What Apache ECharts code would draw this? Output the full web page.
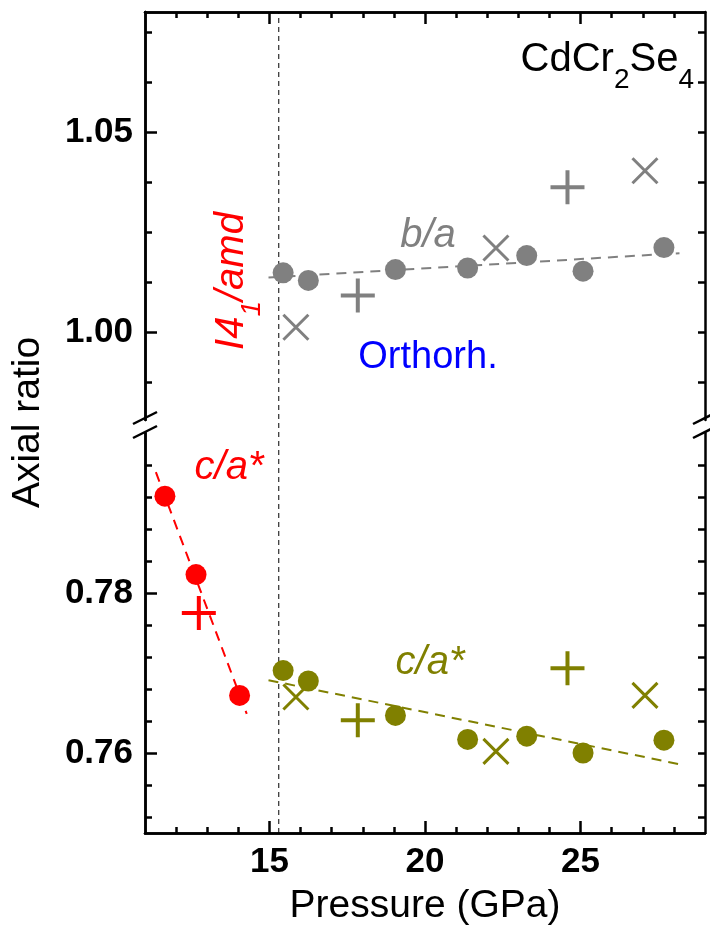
<!DOCTYPE html>
<html><head><meta charset="utf-8">
<script src="https://cdn.jsdelivr.net/npm/echarts@6/dist/echarts.min.js"></script>
<style>html,body{margin:0;padding:0;background:#fff}#c{width:710px;height:934px}</style>
</head><body><div id="c"></div><script>
const FONT = '"Liberation Sans", Arial, Helvetica, sans-serif';

// ---- data (Pressure in GPa, axial ratios) ----
const orthoP      = [15.44, 16.25, 19.05, 21.37, 23.27, 25.08, 27.68];
const baCircleV   = [1.0148, 1.0129, 1.0156, 1.0160, 1.0191, 1.0152, 1.0211];
const caCircleV   = [0.7703, 0.7690, 0.7647, 0.7617, 0.7621, 0.7600, 0.7616];
const plusP       = [17.84, 24.58];
const baPlusV     = [1.0091, 1.0362];
const caPlusV     = [0.7641, 0.7706];
const crossP      = [15.85, 22.28, 27.07];
const baCrossV    = [1.0012, 1.0210, 1.0403];
const caCrossV    = [0.7670, 0.7602, 0.7672];
const orthoFitP   = [14.97, 28.18];
const baFitV      = [1.0136, 1.0197];
const caFitV      = [0.7691, 0.7586];

const tetCircleP  = [11.64, 12.64, 14.04];
const tetCircleV  = [0.7921, 0.7823, 0.7672];
const tetPlusP    = [12.73];
const tetPlusV    = [0.7775];
const tetFitP     = [11.35, 14.27];
const tetFitV     = [0.7951, 0.7649];

const transitionP = 15.3;

// ---- axes / ticks ----
const xRange = [11, 29];
const xMajorTicks = [15, 20, 25];
const xMinorTicks = [12, 13, 14, 16, 17, 18, 19, 21, 22, 23, 24, 26, 27, 28];
const topRange = [0.978, 1.08];
const topMajorTicks = [1.00, 1.05];
const topMinorTicks = [0.9875, 1.0125, 1.025, 1.0375, 1.0625, 1.075];
const botRange = [0.75, 0.80];
const botMajorTicks = [0.76, 0.78];
const botMinorTicks = [0.752, 0.756, 0.764, 0.768, 0.772, 0.776, 0.784, 0.788, 0.792, 0.796];

const C_GREY = '#808080', C_RED = '#ff0000', C_OLIVE = '#808000', C_BLUE = '#0000ff';
const PLUS = 'path://M-1,0L1,0M0,-1L0,1';
const CROSS = 'path://M-1,-1L1,1M-1,1L1,-1';

const zip = (a, b) => a.map((v, i) => [v, b[i]]);

function axis(grid, pos, range, ticks, len, labels) {
  return {
    type: 'value', gridIndex: grid, position: pos, min: range[0], max: range[1],
    axisLine: { show: true, onZero: false, lineStyle: { color: '#000', width: 2.5 } },
    axisTick: { show: true, inside: true, length: len, customValues: ticks, lineStyle: { color: '#000', width: 2.5 } },
    axisLabel: labels ? Object.assign({ show: true, customValues: ticks, color: '#000', fontFamily: FONT, fontWeight: 'bold', fontSize: 35, margin: 12 }, labels) : { show: false },
    splitLine: { show: false }
  };
}

const xAxes = [
  axis(0, 'top', xRange, xMajorTicks, 12, null),
  axis(0, 'top', xRange, xMinorTicks, 6, null),
  Object.assign(axis(1, 'bottom', xRange, xMajorTicks, 12, { formatter: v => String(v), margin: 12 }), {
    name: 'Pressure (GPa)', nameLocation: 'middle', nameGap: 54,
    nameTextStyle: { fontFamily: FONT, fontSize: 39, color: '#000' }
  }),
  axis(1, 'bottom', xRange, xMinorTicks, 6, null),
  { type: 'value', gridIndex: 2, min: xRange[0], max: xRange[1], show: false }
];
const yAxes = [
  axis(0, 'left', topRange, topMajorTicks, 12, { formatter: v => v.toFixed(2) }),
  axis(0, 'left', topRange, topMinorTicks, 7, null),
  axis(0, 'right', topRange, topMajorTicks.concat(topMinorTicks), 7, null),
  axis(1, 'left', botRange, botMajorTicks, 12, { formatter: v => v.toFixed(2) }),
  axis(1, 'left', botRange, botMinorTicks, 7, null),
  axis(1, 'right', botRange, botMajorTicks.concat(botMinorTicks), 7, null),
  { type: 'value', gridIndex: 2, min: 0, max: 1, position: 'left',
    axisLine: { show: false }, axisTick: { show: false }, axisLabel: { show: false }, splitLine: { show: false },
    name: 'Axial ratio', nameLocation: 'middle', nameGap: 97,
    nameTextStyle: { fontFamily: FONT, fontSize: 39, color: '#000' } }
];

function scatter(x, y, data, sym, size, color, bw) {
  const s = { type: 'scatter', xAxisIndex: x, yAxisIndex: y, data, symbol: sym, symbolSize: size, z: 5,
    itemStyle: { color: color, opacity: 1 }, emphasis: { disabled: true } };
  if (bw) s.itemStyle = { color: 'none', borderColor: color, borderWidth: bw, opacity: 1 };
  return s;
}
function fit(x, y, data, color) {
  return { type: 'line', xAxisIndex: x, yAxisIndex: y, data, symbol: 'none', z: 3,
    lineStyle: { color, width: 2, type: [10, 7] }, emphasis: { disabled: true } };
}

const series = [
  { type: 'line', xAxisIndex: 4, yAxisIndex: 6, data: [[transitionP, 0], [transitionP, 1]], symbol: 'none', z: 2,
    lineStyle: { color: '#000', width: 1, type: [5, 4] }, emphasis: { disabled: true } },
  fit(0, 0, zip(orthoFitP, baFitV), C_GREY),
  scatter(0, 0, zip(orthoP, baCircleV), 'circle', 21, C_GREY),
  scatter(0, 0, zip(plusP, baPlusV), PLUS, 34, C_GREY, 4),
  scatter(0, 0, zip(crossP, baCrossV), CROSS, 25, C_GREY, 3),
  fit(2, 3, zip(tetFitP, tetFitV), C_RED),
  scatter(2, 3, zip(tetCircleP, tetCircleV), 'circle', 21, C_RED),
  scatter(2, 3, zip(tetPlusP, tetPlusV), PLUS, 34, C_RED, 4),
  fit(2, 3, zip(orthoFitP, caFitV), C_OLIVE),
  scatter(2, 3, zip(orthoP, caCircleV), 'circle', 21, C_OLIVE),
  scatter(2, 3, zip(plusP, caPlusV), PLUS, 34, C_OLIVE, 4),
  scatter(2, 3, zip(crossP, caCrossV), CROSS, 25, C_OLIVE, 3)
];

function brk(cx, cy) {
  return { type: 'line', shape: { x1: cx - 12, y1: cy + 6, x2: cx + 12, y2: cy - 6 },
    style: { stroke: '#000', lineWidth: 2.5 }, z: 100 };
}
function txt(x, y, text, color, size, opts) {
  return Object.assign({ type: 'text', x, y, z: 100,
    style: Object.assign({ text, fill: color, fontFamily: FONT, fontSize: size, align: 'center', verticalAlign: 'middle' }, (opts && opts.style) || {}) },
    opts && opts.rotation ? { rotation: opts.rotation } : {});
}

const graphic = [
  brk(145, 418), brk(145, 432), brk(705, 418), brk(705, 432),
  txt(428, 236, 'b/a', C_GREY, 40, { style: { fontStyle: 'italic' } }),
  txt(428, 358, 'Orthorh.', C_BLUE, 38),
  txt(229, 468, 'c/a*', C_RED, 40, { style: { fontStyle: 'italic' } }),
  txt(430, 663, 'c/a*', C_OLIVE, 40, { style: { fontStyle: 'italic' } }),
  txt(232, 281, '{m|I4}{s|1}{m|/amd}', C_RED, 40, { rotation: Math.PI / 2, style: {
    rich: { m: { fontFamily: FONT, fontSize: 40, fontStyle: 'italic', fill: C_RED, lineHeight: 40, verticalAlign: 'top' },
            s: { fontFamily: FONT, fontSize: 28, fontStyle: 'italic', fill: C_RED, lineHeight: 28, verticalAlign: 'top', padding: [26, 0, 0, 0] } } } }),
  txt(694, 40, '{m|CdCr}{s|2}{m|Se}{s|4}', '#000', 40, { style: { align: 'right', verticalAlign: 'top',
    rich: { m: { fontFamily: FONT, fontSize: 40, fill: '#000', lineHeight: 40, verticalAlign: 'top' },
            s: { fontFamily: FONT, fontSize: 28, fill: '#000', lineHeight: 28, verticalAlign: 'top', padding: [26, 0, 0, 0] } } } })
];

const chart = echarts.init(document.getElementById('c'), null, { renderer: 'canvas', width: 710, height: 934 });
chart.setOption({
  backgroundColor: '#fff',
  animation: false,
  grid: [
    { left: 145, right: 5, top: 12, height: 408 },
    { left: 145, right: 5, top: 433, height: 400 },
    { left: 145, right: 5, top: 12, height: 821 }
  ],
  xAxis: xAxes,
  yAxis: yAxes,
  series,
  graphic
});
</script></body></html>
